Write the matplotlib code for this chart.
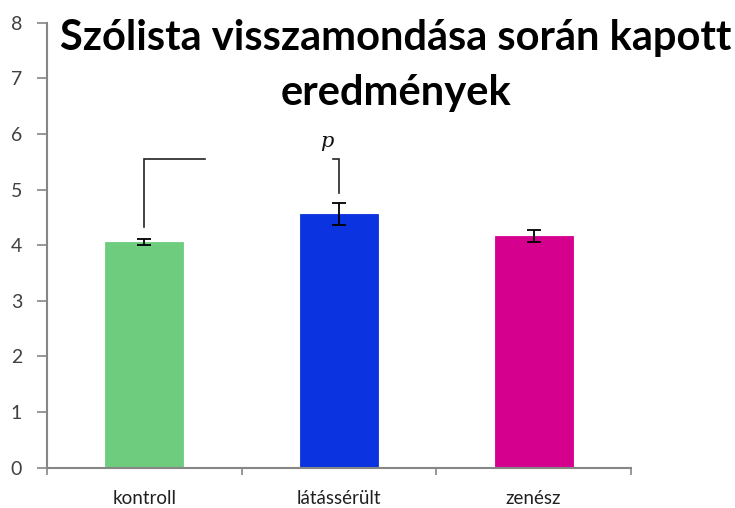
import matplotlib
matplotlib.use("Agg")
import matplotlib.pyplot as plt

categories = ["kontroll", "látássérült", "zenész"]
values = [4.06, 4.56, 4.16]
errors = [0.06, 0.19, 0.11]
colors = ["#6ECC7E", "#0B33E0", "#D6008F"]
yticks = [0, 1, 2, 3, 4, 5, 6, 7, 8]
title_lines = ["Szólista visszamondása során kapott", "eredmények"]

W, H = 735, 508
fig = plt.figure(figsize=(W / 100, H / 100), dpi=100)
ax = fig.add_axes([47 / W, 40.3 / H, (631 - 47) / W, (467.7 - 22.7) / H])

x = list(range(len(categories)))
ax.bar(x, values, width=0.4, color=colors, edgecolor=[c for c in colors], linewidth=0.6, zorder=2)
ax.errorbar(x, values, yerr=errors, fmt="none", ecolor="black", elinewidth=1.3,
            capsize=4.7, capthick=1.3, zorder=3)

ax.set_xlim(-0.5, 2.5)
ax.set_ylim(0, 8)
ax.set_yticks(yticks)
ax.set_xticks(x)
ax.set_xticklabels(categories)
ax.set_xticks([-0.5, 0.5, 1.5, 2.5], minor=True)

gray = "#868686"
for s in ["top", "right"]:
    ax.spines[s].set_visible(False)
for s in ["left", "bottom"]:
    ax.spines[s].set_color(gray)
    ax.spines[s].set_linewidth(1.5)

ax.tick_params(axis="y", direction="out", length=7, width=1.2, color=gray,
               labelsize=14, labelcolor="#404040", pad=11)
ax.tick_params(axis="x", which="major", length=0, labelsize=13.5, labelcolor="#202020", pad=16)
ax.tick_params(axis="x", which="minor", direction="out", length=5, width=1.2, color=gray)
for lab in ax.get_yticklabels() + ax.get_xticklabels():
    lab.set_family("Lato")

# significance bracket
lc = "#222222"
ax.plot([0, 0, 0.31], [4.32, 5.55, 5.55], color=lc, lw=1.2, solid_joinstyle="miter", zorder=4)
ax.plot([0.97, 1.0, 1.0], [5.55, 5.55, 4.93], color=lc, lw=1.2, solid_joinstyle="miter", zorder=4)
ax.text(0.935, 5.86, "p", family="DejaVu Serif", style="italic", fontsize=15,
        ha="center", va="center", color="#111111")

for line, base in zip(title_lines, [50, 105]):
    fig.text(396 / W, 1 - base / H, line, ha="center", va="baseline", fontsize=30,
             fontweight="bold", family="Lato", color="black")

fig.savefig("out.png", dpi=100)
